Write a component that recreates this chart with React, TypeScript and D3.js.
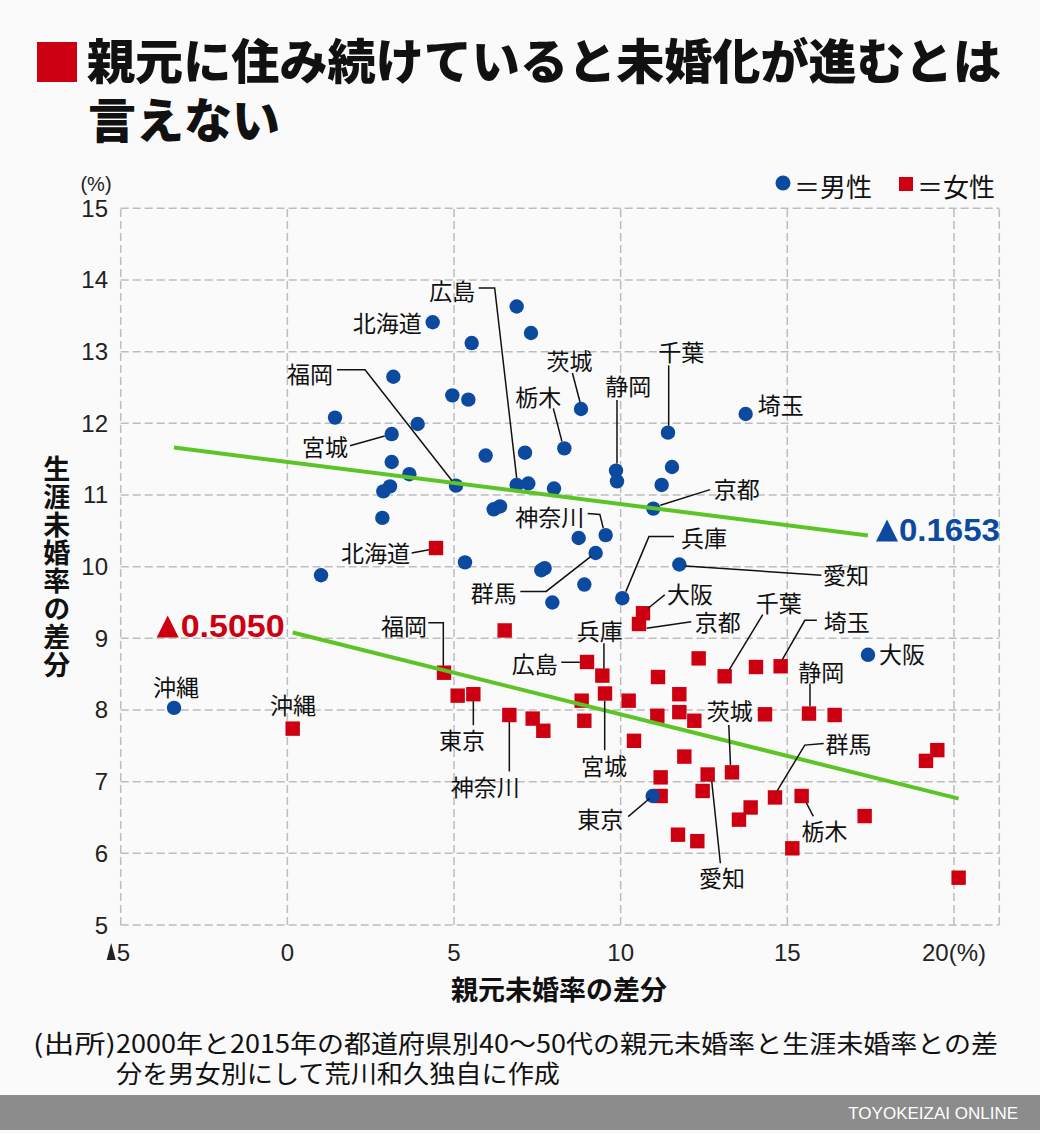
import React from "react";
import * as d3 from "d3";

// ---------- data ----------
const maleNames = ["沖縄","北海道","","","","","","","","","宮城","","","","福岡","","","","","","","","茨城","埼玉","千葉","","栃木","","静岡","","","広島","","","京都","神奈川","","群馬","","","","","兵庫","愛知","大阪","東京"];
const maleX = [-3.40,4.36,6.88,5.53,7.31,3.18,4.95,5.43,1.43,3.91,3.13,5.95,3.13,3.66,5.06,3.08,2.88,2.85,6.19,6.38,5.33,1.01,8.81,13.75,11.42,7.13,8.31,11.54,9.86,9.89,11.23,6.88,7.23,8.0,10.98,9.55,8.74,9.25,7.72,7.62,8.91,7.95,10.05,11.76,17.42,10.96];
const maleY = [8.03,13.41,13.63,13.12,13.26,12.65,12.39,12.33,12.08,11.99,11.85,11.55,11.46,11.29,11.13,11.12,11.05,10.68,10.80,10.84,10.06,9.88,12.20,12.13,11.87,11.59,11.65,11.39,11.34,11.19,11.14,11.14,11.16,11.09,10.81,10.44,10.40,10.19,9.98,9.95,9.75,9.50,9.56,10.03,8.77,6.80];

const femaleNames = ["北海道","","福岡","","東京","神奈川","沖縄","広島","兵庫","宮城","","","","","","","千葉","","埼玉","","","","","静岡","","","","茨城","愛知","","","","群馬","栃木","","","","","","","","","","","","大阪","京都"];
const femaleX = [4.46,6.52,4.70,5.11,5.58,6.66,0.16,8.99,9.45,9.53,8.83,8.91,12.34,11.12,10.24,11.76,13.12,14.06,14.80,11.10,11.76,12.21,14.33,15.65,16.42,10.40,11.91,13.34,12.61,11.20,11.20,12.46,14.63,15.43,13.90,13.55,17.32,11.72,12.30,15.15,19.16,19.50,20.14,7.36,7.68,10.67,10.55];
const femaleY = [10.26,9.11,8.52,8.20,8.22,7.93,7.74,8.67,8.48,8.23,8.13,7.85,8.72,8.46,8.13,8.22,8.47,8.60,8.61,7.92,7.97,7.85,7.94,7.95,7.93,7.57,7.35,7.13,7.10,7.06,6.80,6.87,6.78,6.80,6.64,6.47,6.52,6.26,6.17,6.07,7.29,7.44,5.66,7.88,7.71,9.35,9.20];

// regression lines: [intercept, slope]
const maleFit = [11.462, -0.0589];
const femaleFit = [9.099, -0.116];
const maleFitLabel = "0.1653";
const femaleFitLabel = "0.5050";

const xTicks = [-5, 0, 5, 10, 15, 20];
const xTickLabels = ["5", "0", "5", "10", "15", "20(%)"];
const xTickNeg = [true, false, false, false, false, false];
const yTicks = [5, 6, 7, 8, 9, 10, 11, 12, 13, 14, 15];

const titleLines = ["親元に住み続けていると未婚化が進むとは", "言えない"];
const sourceHead = "(出所)";
const sourceLines = ["2000年と2015年の都道府県別40～50代の親元未婚率と生涯未婚率との差", "分を男女別にして荒川和久独自に作成"];

// ---------- layout (label offsets relative to point, px) ----------
type Lay = { dx: number; dy: number; a: "start" | "middle" | "end"; leader?: [number, number][] };
const maleLayout: Record<string, Lay> = {
  沖縄: { dx: 2, dy: -22, a: "middle" },
  北海道: { dx: -11, dy: 0, a: "end" },
  広島: { dx: -41.5, dy: -195, a: "end", leader: [[-38, -197], [-22, -197], [0, -7]] },
  福岡: { dx: -123, dy: -113, a: "end", leader: [[-119, -116], [-91, -116], [-4, -5]] },
  宮城: { dx: -43.7, dy: 11.7, a: "end", leader: [[-41.7, 11.7], [-7, 2]] },
  茨城: { dx: -11.5, dy: -49, a: "middle", leader: [[-8.6, -36], [-1, -7]] },
  栃木: { dx: -26, dy: -52.6, a: "middle", leader: [[-11, -40], [-2.4, -7]] },
  静岡: { dx: 12.3, dy: -85.7, a: "middle", leader: [[1, -70.7], [1, -7]] },
  千葉: { dx: 13.3, dy: -81.6, a: "middle", leader: [[0.7, -67.3], [0.7, -7]] },
  埼玉: { dx: 12, dy: -10, a: "start" },
  京都: { dx: 60.3, dy: -21, a: "start", leader: [[56.8, -19], [7, -3.3]] },
  神奈川: { dx: -21.3, dy: -19.3, a: "end", leader: [[-18, -21.7], [-5.8, -20.7], [-2.4, -7]] },
  兵庫: { dx: 58.6, dy: -61, a: "start", leader: [[51.7, -61.6], [26.6, -61.6], [3.5, -6.6]] },
  群馬: { dx: -79, dy: 38.7, a: "end", leader: [[-75.3, 38.4], [-49.5, 38.4], [-4.7, 3.4]] },
  愛知: { dx: 143.7, dy: 10, a: "start", leader: [[142, 10.7], [6, 1.4]] },
  大阪: { dx: 11, dy: -1.7, a: "start" },
  東京: { dx: -29.3, dy: 22.3, a: "end", leader: [[-24.5, 20.7], [-2.8, 2.3]] },
};
const femaleLayout: Record<string, Lay> = {
  北海道: { dx: -26, dy: 4.3, a: "end", leader: [[-24.3, 5], [-7, 1.8]] },
  福岡: { dx: -17, dy: -47.7, a: "end", leader: [[-15.7, -50], [-0.7, -50], [-0.7, -7]] },
  沖縄: { dx: 0.3, dy: -24.3, a: "middle" },
  東京: { dx: -11.3, dy: 44.3, a: "middle", leader: [[0, 7], [0, 31]] },
  神奈川: { dx: -24, dy: 71.4, a: "middle", leader: [[0, 7], [0, 56.4]] },
  広島: { dx: -29.2, dy: 0.6, a: "end", leader: [[-25.7, 0.3], [-7.2, 0.3]] },
  兵庫: { dx: -2.7, dy: -45.7, a: "middle", leader: [[1.6, -32.4], [1.6, -7.2]] },
  宮城: { dx: -1, dy: 71.7, a: "middle", leader: [[-0.3, 56.7], [-0.3, 7.2]] },
  大阪: { dx: 24.1, dy: -20.6, a: "start", leader: [[21.7, -18.3], [5.1, -5]] },
  京都: { dx: 55.8, dy: -3.3, a: "start", leader: [[52.2, -2.3], [7.6, 4.3]] },
  千葉: { dx: 54.2, dy: -74.4, a: "middle", leader: [[38.1, -61.7], [4.7, -6.7]] },
  埼玉: { dx: 43.1, dy: -45.3, a: "start", leader: [[36.2, -46], [24.2, -46], [1.8, -7]] },
  静岡: { dx: 12.3, dy: -42.6, a: "middle", leader: [[1, -30], [1, -7.3]] },
  茨城: { dx: -2.3, dy: -62.3, a: "middle", leader: [[-3.2, -47.3], [-1.5, -7.3]] },
  愛知: { dx: 14.4, dy: 102.2, a: "middle", leader: [[12.7, 88.8], [4.1, 7]] },
  群馬: { dx: 50.4, dy: -54, a: "start", leader: [[48.7, -54], [29.8, -52.3], [2.2, -6.6]] },
  栃木: { dx: 22.9, dy: 34.4, a: "middle", leader: [[11.7, 20.4], [4.8, 7]] },
};

const W = 1040;
const H = 1134;
const JP = "'Noto Sans CJK JP', 'Noto Sans', sans-serif";
const NUM = "'Liberation Sans', Arial, 'DejaVu Sans', sans-serif";
const BLUE = "#0b4a9e";
const RED = "#cc0010";
const GREEN = "#5cc425";
const GRID = "#bdbdbd";

// small triangle used for "▲" (negative sign) drawn as a shape
function Tri({ x, y, w, h, fill }: { x: number; y: number; w: number; h: number; fill: string }) {
  return <path d={`M${x},${y}L${x + w / 2},${y - h}L${x + w},${y}Z`} fill={fill} />;
}

export default function App() {
  const x = d3.scaleLinear().domain([-5, 21.36]).range([120.7, 999.3]);
  const y = d3.scaleLinear().domain([5, 15]).range([925, 208.3]);
  const [x0, x1] = x.range();
  const [y0, y1] = y.range();

  const males = maleX.map((v, i) => ({ name: maleNames[i], px: x(v), py: y(maleY[i]) }));
  const females = femaleX.map((v, i) => ({ name: femaleNames[i], px: x(v), py: y(femaleY[i]) }));

  const line = d3.line<[number, number]>().x((d) => d[0]).y((d) => d[1]);
  const fitLine = (xs: number[], fit: number[]) => {
    const lo = d3.min(xs)!;
    const hi = d3.max(xs)!;
    return [
      [x(lo), y(fit[0] + fit[1] * lo)],
      [x(hi), y(fit[0] + fit[1] * hi)],
    ] as [number, number][];
  };
  const mLine = fitLine(maleX, maleFit);
  const fLine = fitLine(femaleX, femaleFit);

  const renderLabels = (pts: { name: string; px: number; py: number }[], layout: Record<string, Lay>, key: string) =>
    pts
      .filter((p) => p.name && layout[p.name])
      .map((p, i) => {
        const l = layout[p.name];
        return (
          <g key={key + i}>
            {l.leader && (
              <path
                d={line(l.leader.map(([dx, dy]) => [p.px + dx, p.py + dy] as [number, number])) || ""}
                fill="none"
                stroke="#111"
                strokeWidth={1.5}
              />
            )}
            <text
              x={p.px + l.dx}
              y={p.py + l.dy}
              textAnchor={l.a}
              dominantBaseline="central"
              fontFamily={JP}
              fontSize={23}
              fill="#111"
            >
              {p.name}
            </text>
          </g>
        );
      });

  const vLines = [...xTicks, x.domain()[1]];

  // fit label positions
  const mlx = mLine[1][0] + 8;
  const mly = mLine[1][1] - 5;
  const flx = fLine[0][0] - 8;
  const fly = fLine[0][1] - 6;

  return (
    <div>
      <style>{`body{margin:0;background:#fafafa}`}</style>
      <svg width={W} height={H} viewBox={`0 0 ${W} ${H}`} style={{ display: "block" }}>
        <rect x={0} y={0} width={W} height={H} fill="#fafafa" />

        {/* title */}
        <rect x={37} y={42} width={40} height={40} fill={RED} />
        <text fontFamily={JP} fontWeight={900} fontSize={48} fill="#111">
          <tspan x={87} y={79} textLength={914} lengthAdjust="spacingAndGlyphs">{titleLines[0]}</tspan>
          <tspan x={88} y={138}>{titleLines[1]}</tspan>
        </text>

        {/* legend */}
        <circle cx={783} cy={183} r={7.5} fill={BLUE} />
        <text x={794} y={185} dominantBaseline="central" fontFamily={JP} fontSize={26} fill="#111">＝男性</text>
        <rect x={899} y={177} width={14} height={14} fill={RED} />
        <text x={917} y={185} dominantBaseline="central" fontFamily={JP} fontSize={26} fill="#111">＝女性</text>

        {/* grid */}
        {yTicks.map((t) => (
          <line key={"gy" + t} x1={x0} x2={x1} y1={y(t)} y2={y(t)} stroke={GRID} strokeWidth={1.5} strokeDasharray="8,4" />
        ))}
        {vLines.map((t) => (
          <line key={"gx" + t} x1={x(t)} x2={x(t)} y1={y0} y2={y1} stroke={GRID} strokeWidth={1.5} strokeDasharray="8,4" />
        ))}

        {/* y ticks */}
        {yTicks.map((t) => (
          <text key={"ty" + t} x={108} y={y(t)} textAnchor="end" dominantBaseline="central" fontFamily={NUM} fontSize={24} fill="#222">
            {t}
          </text>
        ))}
        <text x={96} y={184} textAnchor="middle" dominantBaseline="central" fontFamily={NUM} fontSize={20} fill="#222">(%)</text>

        {/* x ticks */}
        {xTicks.map((t, i) =>
          xTickNeg[i] ? (
            <g key={"tx" + t}>
              <Tri x={x(t) - 14} y={960} w={9} h={17} fill="#222" />
              <text x={x(t) - 4} y={952} dominantBaseline="central" fontFamily={NUM} fontSize={24} fill="#222">
                {xTickLabels[i]}
              </text>
            </g>
          ) : (
            <text key={"tx" + t} x={x(t)} y={952} textAnchor="middle" dominantBaseline="central" fontFamily={NUM} fontSize={24} fill="#222">
              {xTickLabels[i]}
            </text>
          )
        )}

        {/* axis titles */}
        <text
          x={56.7}
          y={455}
          style={{ writingMode: "vertical-rl", textOrientation: "upright" } as any}
          fontFamily={JP}
          fontWeight="bold"
          fontSize={27}
          letterSpacing={1}
          fill="#111"
        >
          生涯未婚率の差分
        </text>
        <text x={559} y={988} textAnchor="middle" dominantBaseline="central" fontFamily={JP} fontWeight="bold" fontSize={27} fill="#111">
          親元未婚率の差分
        </text>

        {/* points */}
        {females.map((p, i) => (
          <rect key={"f" + i} x={p.px - 7.2} y={p.py - 7.2} width={14.4} height={14.4} fill={RED} />
        ))}
        {males.map((p, i) => (
          <circle key={"m" + i} cx={p.px} cy={p.py} r={7.2} fill={BLUE} />
        ))}

        {/* regression lines */}
        <path d={line(mLine) || ""} stroke={GREEN} strokeWidth={4} fill="none" />
        <path d={line(fLine) || ""} stroke={GREEN} strokeWidth={4} fill="none" />
        <Tri x={mlx} y={mly + 11} w={22} h={22} fill={BLUE} />
        <text x={mlx + 23} y={mly} dominantBaseline="central" fontFamily={NUM} fontWeight="bold" fontSize={31} fill={BLUE} textLength={101} lengthAdjust="spacingAndGlyphs">
          {maleFitLabel}
        </text>
        <Tri x={flx - 128} y={fly + 11} w={22} h={22} fill={RED} />
        <text x={flx} y={fly} textAnchor="end" dominantBaseline="central" fontFamily={NUM} fontWeight="bold" fontSize={31} fill={RED} textLength={104} lengthAdjust="spacingAndGlyphs">
          {femaleFitLabel}
        </text>

        {/* labels */}
        {renderLabels(females, femaleLayout, "fl")}
        {renderLabels(males, maleLayout, "ml")}

        {/* source */}
        <text fontFamily={JP} fontSize={25} fill="#111">
          <tspan x={33} y={1053} textLength={83} lengthAdjust="spacingAndGlyphs">{sourceHead}</tspan>
          <tspan x={116} y={1053} textLength={882} lengthAdjust="spacingAndGlyphs">{sourceLines[0]}</tspan>
          <tspan x={116} y={1083} textLength={444} lengthAdjust="spacingAndGlyphs">{sourceLines[1]}</tspan>
        </text>

        {/* footer */}
        <rect x={0} y={1095} width={W} height={35} fill="#8c8c8c" />
        <text x={1018} y={1113} textAnchor="end" dominantBaseline="central" fontFamily={NUM} fontSize={17} fill="#fff">
          TOYOKEIZAI ONLINE
        </text>
      </svg>
    </div>
  );
}
